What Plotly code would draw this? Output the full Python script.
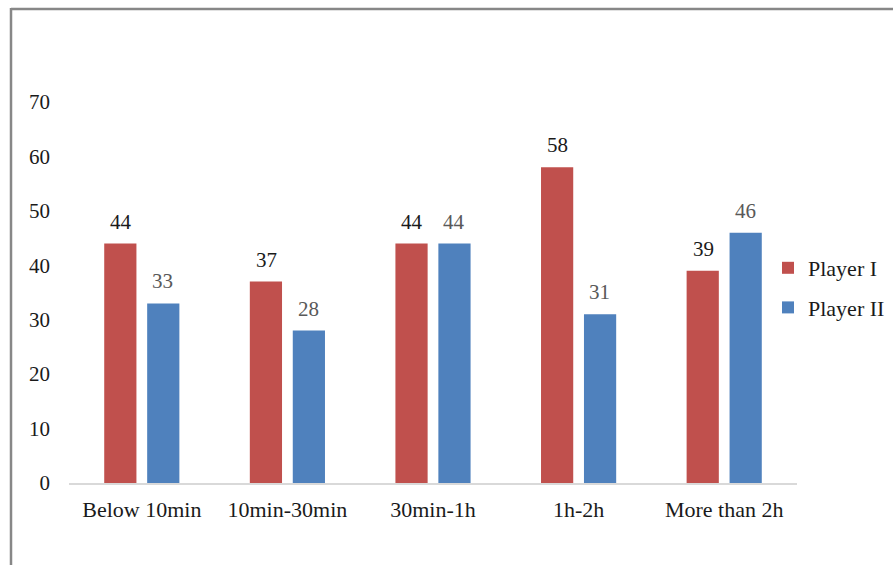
import plotly.graph_objects as go

categories = ["Below 10min", "10min-30min", "30min-1h", "1h-2h", "More than 2h"]
player_1 = [44, 37, 44, 58, 39]
player_2 = [33, 28, 44, 31, 46]
y_ticks = [0, 10, 20, 30, 40, 50, 60, 70]

RED = "#C0504D"
BLUE = "#4F81BD"
FONT = "Liberation Serif"

fig = go.Figure()
fig.add_trace(go.Bar(name="Player I", x=categories, y=player_1,
                     marker=dict(color=RED, line=dict(width=0)),
                     legendgroup="p1"))
fig.add_trace(go.Bar(name="Player II", x=categories, y=player_2,
                     marker=dict(color=BLUE, line=dict(width=0)),
                     legendgroup="p2"))

# value labels above each bar
annotations = []
for cat, v in zip(categories, player_1):
    annotations.append(dict(x=cat, y=v, text=str(v), showarrow=False,
                            xshift=-21, yshift=22,
                            font=dict(family=FONT, size=21, color="#1a1a1a")))
for cat, v in zip(categories, player_2):
    annotations.append(dict(x=cat, y=v, text=str(v), showarrow=False,
                            xshift=21, yshift=22,
                            font=dict(family=FONT, size=21, color="#595959")))

# frame lines along the top and left edges
shapes = [
    dict(type="line", xref="paper", yref="paper",
         x0=(11 - 69) / 728, x1=(895 - 69) / 728,
         y0=(483 - 9) / 381, y1=(483 - 9) / 381,
         line=dict(color="#878787", width=2.5)),
    dict(type="line", xref="paper", yref="paper",
         x0=(11 - 69) / 728, x1=(11 - 69) / 728,
         y0=(483 - 8) / 381, y1=(483 - 570) / 381,
         line=dict(color="#878787", width=2.5)),
]

fig.update_layout(
    width=893, height=565,
    margin=dict(l=69, r=96, t=102, b=82, autoexpand=False),
    paper_bgcolor="white", plot_bgcolor="white",
    barmode="group", bargap=0.41, bargroupgap=0.25,
    font=dict(family=FONT, size=21, color="#1a1a1a"),
    showlegend=True,
    legend=dict(x=(768 - 69) / 728, y=(483 - 288) / 381,
                xanchor="left", yanchor="middle",
                font=dict(family=FONT, size=22, color="#1a1a1a"),
                tracegroupgap=8, itemwidth=30, bgcolor="rgba(0,0,0,0)"),
    annotations=annotations,
    shapes=shapes,
)
fig.update_xaxes(showline=True, linecolor="#D9D9D9", linewidth=2,
                 showgrid=False, ticks="", ticklabelstandoff=6,
                 tickfont=dict(family=FONT, size=22, color="#1a1a1a"))
fig.update_yaxes(range=[0, 70], tickvals=y_ticks, showgrid=False,
                 zeroline=False, showline=False, ticks="",
                 ticklabelstandoff=18,
                 tickfont=dict(family=FONT, size=21, color="#1a1a1a"))

fig.write_html("out.html")
